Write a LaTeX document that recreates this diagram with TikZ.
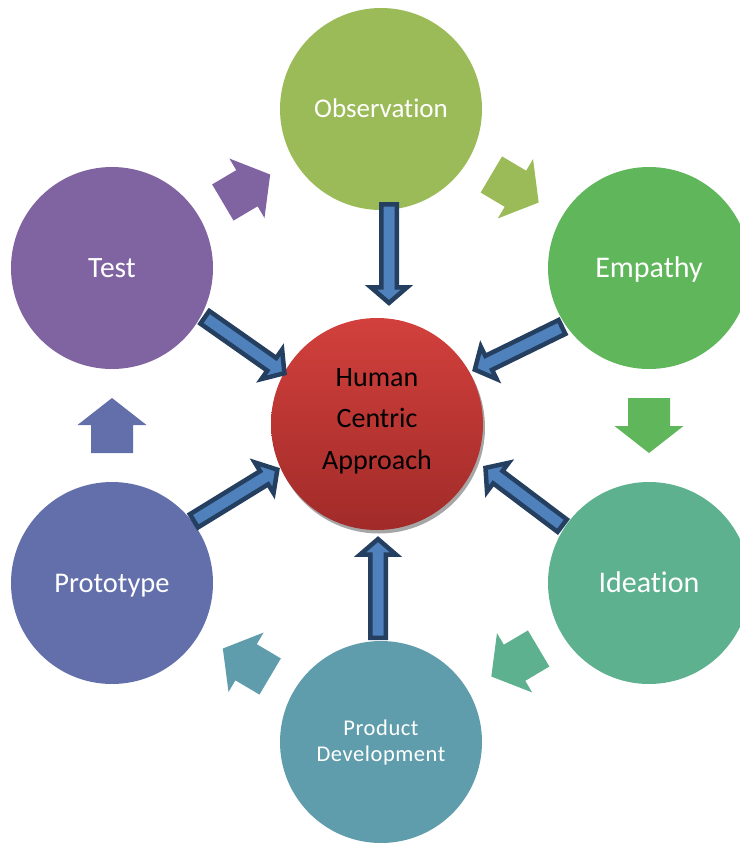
\documentclass[tikz,border=0pt]{standalone}
\usepackage{fontspec}
\setmainfont[Ligatures=CommonOff]{Carlito}
\usetikzlibrary{calc}
\definecolor{obsc}{HTML}{9BBB59}
\definecolor{empc}{HTML}{60B65B}
\definecolor{idec}{HTML}{5DB18E}
\definecolor{prodc}{HTML}{5F9DAC}
\definecolor{protoc}{HTML}{636FAA}
\definecolor{testc}{HTML}{8064A2}
\definecolor{hcatop}{HTML}{D2403C}
\definecolor{hcabot}{HTML}{A12B29}
\definecolor{arrowblue}{HTML}{4F81BD}
\definecolor{arrowdark}{HTML}{243F60}
\definecolor{shadowc}{HTML}{A6A6A6}

\tikzset{
  bigcirc/.style={circle, minimum size=202pt, inner sep=0pt, outer sep=0pt,
    text=white},
  onelab/.style={font=\fontsize{#1}{#1}\selectfont, text height=0.644*#1pt, text depth=0pt},
  barrow/.style={fill=arrowblue, draw=arrowdark, line width=4.5pt, line join=miter},
}

\newcommand\fatarrow[3]{%
  \coordinate (fa-M) at ($(#1.center)!0.5!(#2.center)$);
  \coordinate (fa-K) at ($(fa-M)!27.5pt!(#1.center)$);
  \coordinate (fa-T) at ($(fa-M)!27.5pt!(#2.center)$);
  \coordinate (fa-J) at ($(fa-M)!0.5pt!(#2.center)$);
  \fill[#3] ($(fa-K)!21pt!90:(fa-T)$) -- ($(fa-J)!21pt!90:(fa-T)$)
    -- ($(fa-J)!34.5pt!90:(fa-T)$) -- (fa-T) -- ($(fa-J)!34.5pt!-90:(fa-T)$)
    -- ($(fa-J)!21pt!-90:(fa-T)$) -- ($(fa-K)!21pt!-90:(fa-T)$) -- cycle;
}

\newcommand\blockarrow[2]{%
  \coordinate (ba-A) at ($(#1)!2.25pt!(#2)$);
  \coordinate (ba-B) at ($(#2)!3.1pt!(#1)$);
  \coordinate (ba-H) at ($(ba-B)!15.5pt!(ba-A)$);
  \filldraw[barrow] ($(ba-A)!7.75pt!90:(ba-B)$) -- ($(ba-H)!7.75pt!-90:(ba-A)$)
    -- ($(ba-H)!18pt!-90:(ba-A)$) -- (ba-B) -- ($(ba-H)!18pt!90:(ba-A)$)
    -- ($(ba-H)!7.75pt!90:(ba-A)$) -- ($(ba-A)!7.75pt!-90:(ba-B)$) -- cycle;
}

\begin{document}
\begin{tikzpicture}[x=1pt, y=-1pt]
  \useasboundingbox (0,0) rectangle (739,846);

  % outer circles
  \node[bigcirc, onelab=27, fill=obsc]     (obs)   at (381,109) {Observation};
  \node[bigcirc, onelab=30, fill=empc]     (emp)   at (649,268) {Empathy};
  \node[bigcirc, onelab=30, fill=idec]     (ide)   at (649,583) {Ideation};
  \node[bigcirc, fill=prodc, align=center,
        font=\fontsize{22.5}{26}\selectfont\addfontfeature{LetterSpace=2.5}] (prod) at (381,742) {Product\\Development};
  \node[bigcirc, onelab=28.5, fill=protoc] (proto) at (112,583) {Prototype};
  \node[bigcirc, onelab=29.5, fill=testc]  (test)  at (112,268) {Test};

  % clockwise block arrows
  \fatarrow{obs}{emp}{obsc}
  \fatarrow{emp}{ide}{empc}
  \fatarrow{ide}{prod}{idec}
  \fatarrow{prod}{proto}{prodc}
  \fatarrow{proto}{test}{protoc}
  \fatarrow{test}{obs}{testc}

  % centre circle
  \fill[shadowc] (379,427.5) circle[radius=106pt];
  \node[circle, minimum size=212pt, inner sep=0pt, outer sep=0pt,
        top color=hcatop, bottom color=hcabot] (hca) at (377,424) {};
  \node[align=center, font=\fontsize{28}{41.5}\selectfont, text=black]
        (hcatext) at (377,421) {Human\\Centric\\Approach};

  % arrow end points
  \coordinate (obsT)   at (389,202);  \coordinate (obsH)   at (389,306);
  \coordinate (testT)  at (203,316);  \coordinate (testH)  at (287,375);
  \coordinate (empT)   at (564,326);  \coordinate (empH)   at (472,371);
  \coordinate (ideT)   at (564,527);  \coordinate (ideH)   at (483,466);
  \coordinate (prodT)  at (378,640);  \coordinate (prodH)  at (378,536);
  \coordinate (protoT) at (192,522);  \coordinate (protoH) at (280,468);

  \blockarrow{obsT}{obsH}
  \blockarrow{testT}{testH}
  \blockarrow{empT}{empH}
  \blockarrow{ideT}{ideH}
  \blockarrow{prodT}{prodH}
  \blockarrow{protoT}{protoH}
\end{tikzpicture}
\end{document}
